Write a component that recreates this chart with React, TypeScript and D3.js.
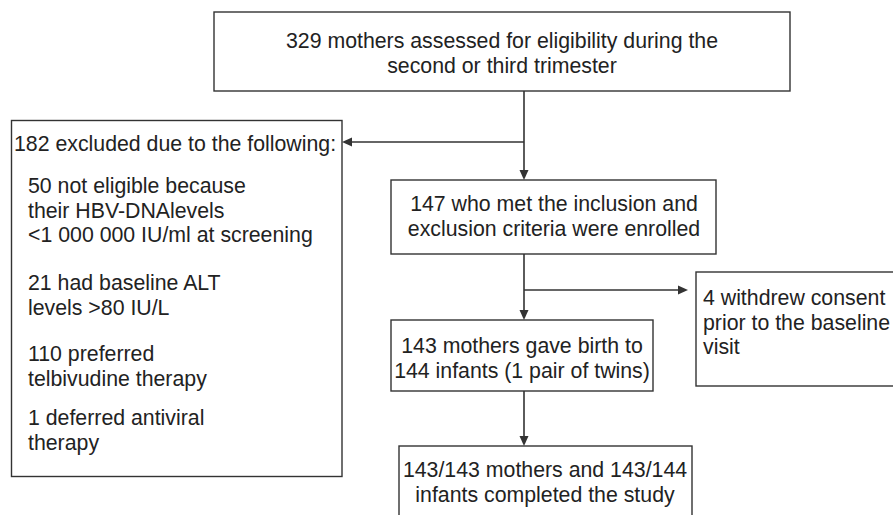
import React from 'react';
import * as d3 from 'd3';

// node texts
const topLines = ['329 mothers assessed for eligibility during the', 'second or third trimester'];
const enrolledLines = ['147 who met the inclusion and', 'exclusion criteria were enrolled'];
const birthLines = ['143 mothers gave birth to', '144 infants (1 pair of twins)'];
const completedLines = ['143/143 mothers and 143/144', 'infants completed the study'];
const withdrewLines = ['4 withdrew consent', 'prior to the baseline', 'visit'];
const excludedHeader = '182 excluded due to the following:';
const excludedGroups = [
  ['50 not eligible because', 'their HBV-DNAlevels', '<1 000 000 IU/ml at screening'],
  ['21 had baseline ALT', 'levels >80 IU/L'],
  ['110 preferred', 'telbivudine therapy'],
  ['1 deferred antiviral', 'therapy'],
];

const W = 893;
const H = 515;
const FONT = 'Liberation Sans, Arial, Helvetica, sans-serif';
const FS = 21.3;
const LH = 24.5;
const INK = '#222';
const EDGE = '#333';

// box geometry (layout only)
const boxes = {
  top: { x: 214, y: 12, w: 576, h: 79, cx: 502, base: 48 },
  enrolled: { x: 391, y: 180, w: 325, h: 74, cx: 554, base: 211 },
  birth: { x: 391, y: 320, w: 262, h: 71, cx: 522, base: 353 },
  completed: { x: 399, y: 446, w: 293, h: 90, cx: 545, base: 477 },
  withdrew: { x: 696, y: 272, w: 220, h: 114, tx: 703, base: 305 },
  excluded: { x: 11.5, y: 120.5, w: 330.5, h: 356, tx: 14, ix: 28, base: 151 },
};
const excludedGroupBase = [193, 290, 361, 425];
const spineX = 524;

const arrows: [number, number, number, number][] = [
  [spineX, 91, spineX, 180],
  [spineX, 142, 342, 142],
  [spineX, 254, spineX, 320],
  [spineX, 290, 688, 290],
  [spineX, 391, spineX, 446],
];

const line = d3.line<[number, number]>();

function Arrow({ x1, y1, x2, y2 }: { x1: number; y1: number; x2: number; y2: number }) {
  const ang = Math.atan2(y2 - y1, x2 - x1);
  const len = 10;
  const half = 4.5;
  const bx = x2 - len * Math.cos(ang);
  const by = y2 - len * Math.sin(ang);
  const px = -Math.sin(ang) * half;
  const py = Math.cos(ang) * half;
  const head: [number, number][] = [[x2, y2], [bx + px, by + py], [bx - px, by - py]];
  return (
    <g>
      <path d={line([[x1, y1], [bx, by]]) || ''} stroke={EDGE} strokeWidth={1.6} fill="none" />
      <path d={(line(head) || '') + 'Z'} fill={EDGE} stroke="none" />
    </g>
  );
}

function Box({ b }: { b: { x: number; y: number; w: number; h: number } }) {
  return <rect x={b.x} y={b.y} width={b.w} height={b.h} fill="#fff" stroke={EDGE} strokeWidth={1.4} />;
}

function Centered({ lines, cx, base }: { lines: string[]; cx: number; base: number }) {
  return (
    <>
      {lines.map((t, i) => (
        <text key={i} x={cx} y={base + i * LH} textAnchor="middle">{t}</text>
      ))}
    </>
  );
}

export default function App() {
  const ex = boxes.excluded;
  return (
    <div style={{ position: 'fixed', left: 0, top: 0, width: W, height: H, background: '#fff' }}>
      <svg width={W} height={H} style={{ display: 'block' }}>
        <rect width={W} height={H} fill="#fff" />
        <g fontFamily={FONT} fontSize={FS} fill={INK}>
          <Box b={boxes.top} />
          <Box b={boxes.enrolled} />
          <Box b={boxes.birth} />
          <Box b={boxes.completed} />
          <Box b={boxes.withdrew} />
          <Box b={ex} />

          <Centered lines={topLines} cx={boxes.top.cx} base={boxes.top.base} />
          <Centered lines={enrolledLines} cx={boxes.enrolled.cx} base={boxes.enrolled.base} />
          <Centered lines={birthLines} cx={boxes.birth.cx} base={boxes.birth.base} />
          <Centered lines={completedLines} cx={boxes.completed.cx} base={boxes.completed.base} />
          {withdrewLines.map((t, i) => (
            <text key={i} x={boxes.withdrew.tx} y={boxes.withdrew.base + i * LH}>{t}</text>
          ))}

          <text x={ex.tx} y={ex.base}>{excludedHeader}</text>
          {excludedGroups.map((grp, gi) =>
            grp.map((t, li) => (
              <text key={`${gi}-${li}`} x={ex.ix} y={excludedGroupBase[gi] + li * LH}>{t}</text>
            ))
          )}

          {arrows.map(([x1, y1, x2, y2], i) => (
            <Arrow key={i} x1={x1} y1={y1} x2={x2} y2={y2} />
          ))}
        </g>
      </svg>
    </div>
  );
}
